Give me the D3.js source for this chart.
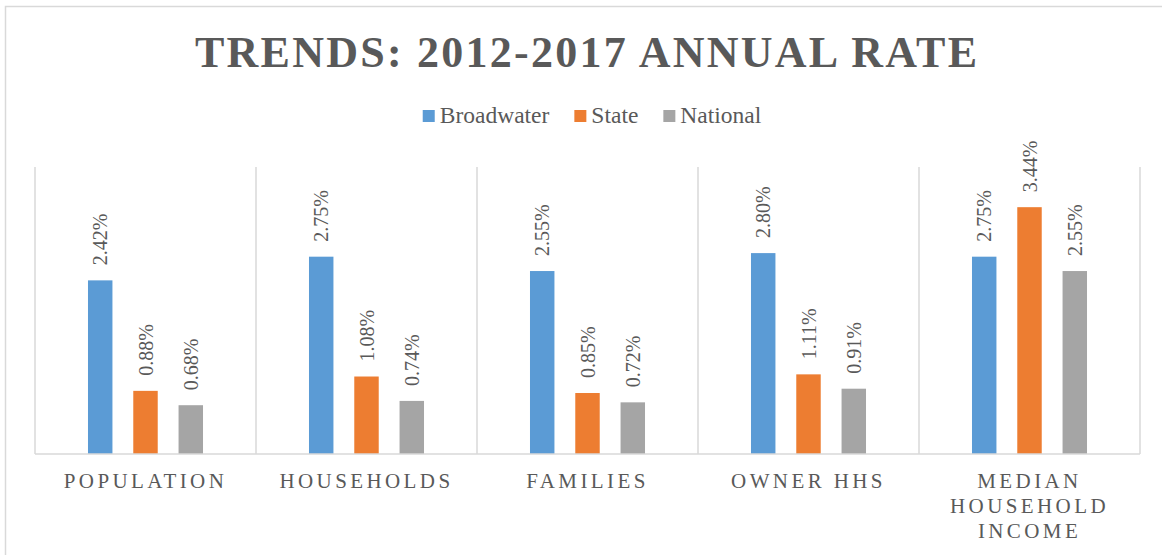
<!DOCTYPE html>
<html>
<head>
<meta charset="utf-8">
<script src="https://cdn.jsdelivr.net/npm/d3@7"></script>
<style>
  body { margin: 0; background: #fff; }
  svg text { font-family: "Liberation Serif", "Times New Roman", Times, "DejaVu Serif", serif; fill: #595959; }
</style>
</head>
<body>
<script>
// Chart data
var categories = ['Population', 'Households', 'Families', 'Owner HHs', 'Median Household Income'];
var categoryLines = [['POPULATION'], ['HOUSEHOLDS'], ['FAMILIES'], ['OWNER HHS'], ['MEDIAN', 'HOUSEHOLD', 'INCOME']];
var series = ['Broadwater', 'State', 'National'];
var broadwater = [2.42, 2.75, 2.55, 2.80, 2.75];
var state      = [0.88, 1.08, 0.85, 1.11, 3.44];
var national   = [0.68, 0.74, 0.72, 0.91, 2.55];
var colors = ['#5B9BD5', '#ED7D31', '#A5A5A5'];
var title = 'TRENDS: 2012-2017 ANNUAL RATE';

var serifFont = '"Liberation Serif", "Times New Roman", Times, "DejaVu Serif", serif';

var values = [broadwater, state, national];
var data = categories.map(function (c, i) {
  return {
    category: c,
    lines   : categoryLines[i],
    bars    : series.map(function (s, j) { return { series: s, value: values[j][i] }; })
  };
});

let width  = 1162;
let height = 555;
let plot = { left: 35, right: 1140, top: 167, bottom: 454 };

let svg = d3.select('body')
  .append('svg')
    .attr('width', width)
    .attr('height', height)
    .style('font-family', serifFont);

// chart border
svg.append('rect')
    .attr('x', 5.5)
    .attr('y', 6.5)
    .attr('width', 1180)
    .attr('height', 550)
    .attr('fill', 'none')
    .attr('stroke', '#D9D9D9')
    .attr('stroke-width', 1.5);

// title
svg.append('text')
    .attr('x', 586)
    .attr('y', 67)
    .attr('text-anchor', 'middle')
    .attr('font-family', serifFont)
    .attr('font-size', 44)
    .attr('font-weight', 'bold')
    .attr('textLength', 782)
    .attr('lengthAdjust', 'spacing')
    .text(title);

// legend
let legend = svg.append('g');
let lx = 0;
let legendGap = 25;
series.forEach(function (s, i) {
  let g = legend.append('g').attr('transform', 'translate(' + lx + ',0)');
  g.append('rect')
      .attr('x', 0)
      .attr('y', -13)
      .attr('width', 12)
      .attr('height', 12)
      .attr('fill', colors[i]);
  let t = g.append('text')
      .attr('x', 17)
      .attr('y', 0)
      .attr('font-family', serifFont)
      .attr('font-size', 23.5)
      .text(s);
  lx += 17 + t.node().getComputedTextLength() + legendGap;
});
lx -= legendGap;
legend.attr('transform', 'translate(' + (592 - lx / 2) + ',123)');

let x0 = d3.scaleBand()
    .domain(categories)
    .range([plot.left, plot.right])
    .padding(0);

let x1 = d3.scaleBand()
    .domain(series)
    .range([0, x0.bandwidth()])
    .paddingInner(0.46)
    .paddingOuter(1.17);

let y = d3.scaleLinear()
    .domain([0, 4])
    .range([plot.bottom, plot.top]);

// category separators
let seps = categories.map(function (c) { return x0(c); }).concat([plot.right]);
svg.append('g')
  .selectAll('line')
  .data(seps)
  .enter().append('line')
    .attr('x1', function (d) { return d; })
    .attr('x2', function (d) { return d; })
    .attr('y1', plot.top)
    .attr('y2', plot.bottom)
    .attr('stroke', '#D9D9D9')
    .attr('stroke-width', 1.5);

// bars
let groups = svg.append('g')
  .selectAll('g')
  .data(data)
  .enter().append('g')
    .attr('transform', function (d) { return 'translate(' + x0(d.category) + ',0)'; });

groups.selectAll('rect')
  .data(function (d) { return d.bars; })
  .enter().append('rect')
    .attr('x', function (d) { return x1(d.series); })
    .attr('y', function (d) { return y(d.value); })
    .attr('width', x1.bandwidth())
    .attr('height', function (d) { return y(0) - y(d.value); })
    .attr('fill', function (d, i) { return colors[i]; });

groups.selectAll('text.val')
  .data(function (d) { return d.bars; })
  .enter().append('text')
    .attr('class', 'val')
    .attr('transform', function (d) {
      return 'translate(' + (x1(d.series) + x1.bandwidth() / 2) + ',' + (y(d.value) - 15) + ') rotate(-90)';
    })
    .attr('dy', '0.35em')
    .attr('font-family', serifFont)
    .attr('font-size', 20)
    .text(function (d) { return d.value.toFixed(2) + '%'; });

// x axis line
svg.append('line')
    .attr('x1', plot.left)
    .attr('x2', plot.right)
    .attr('y1', plot.bottom)
    .attr('y2', plot.bottom)
    .attr('stroke', '#D9D9D9')
    .attr('stroke-width', 1.5);

// category labels
let labels = svg.append('g')
  .selectAll('text')
  .data(data)
  .enter().append('text')
    .attr('x', function (d) { return x0(d.category) + x0.bandwidth() / 2; })
    .attr('y', 488)
    .attr('text-anchor', 'middle')
    .attr('font-family', serifFont)
    .attr('font-size', 21)
    .attr('letter-spacing', '3.4px');

labels.selectAll('tspan')
  .data(function (d) { return d.lines; })
  .enter().append('tspan')
    .attr('x', function () { return d3.select(this.parentNode).attr('x'); })
    .attr('dy', function (d, i) { return i === 0 ? 0 : 25; })
    .text(function (d) { return d; });
</script>
</body>
</html>
